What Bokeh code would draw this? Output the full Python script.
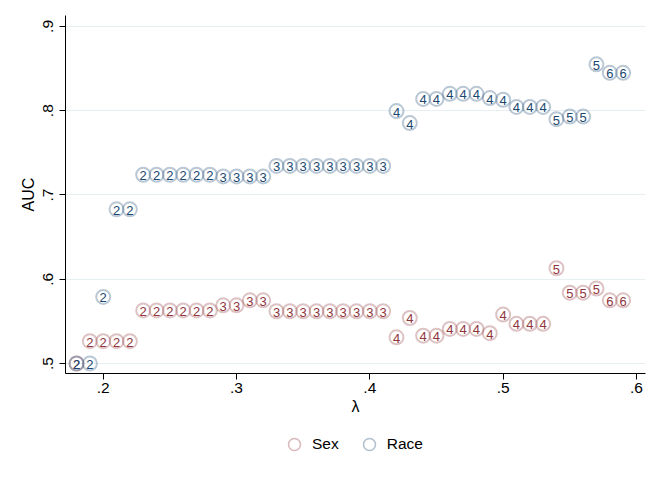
from bokeh.plotting import figure
from bokeh.layouts import column
from bokeh.models import (ColumnDataSource, Legend, LegendItem, FixedTicker,
                          CustomJSTickFormatter, Range1d)
from bokeh.core.properties import value
from bokeh.embed import file_html
from bokeh.resources import INLINE

lam = [0.18, 0.19, 0.20, 0.21, 0.22, 0.23, 0.24, 0.25, 0.26, 0.27, 0.28,
       0.29, 0.30, 0.31, 0.32, 0.33, 0.34, 0.35, 0.36, 0.37, 0.38, 0.39,
       0.40, 0.41, 0.42, 0.43, 0.44, 0.45, 0.46, 0.47, 0.48, 0.49, 0.50,
       0.51, 0.52, 0.53, 0.54, 0.55, 0.56, 0.57, 0.58, 0.59]

sex_auc = [0.500, 0.5265, 0.5265, 0.5265, 0.5265, 0.563, 0.563, 0.563, 0.563,
           0.563, 0.563, 0.569, 0.569, 0.575, 0.575, 0.562, 0.562, 0.562,
           0.562, 0.562, 0.562, 0.562, 0.562, 0.562, 0.531, 0.554, 0.533,
           0.533, 0.541, 0.541, 0.541, 0.536, 0.558, 0.547, 0.547, 0.547,
           0.613, 0.584, 0.584, 0.589, 0.575, 0.575]

race_auc = [0.500, 0.500, 0.579, 0.683, 0.683, 0.724, 0.724, 0.724, 0.724,
            0.724, 0.724, 0.722, 0.722, 0.722, 0.722, 0.7345, 0.7345, 0.7345,
            0.7345, 0.7345, 0.7345, 0.7345, 0.7345, 0.7345, 0.7996, 0.7853,
            0.814, 0.814, 0.820, 0.820, 0.820, 0.815, 0.813, 0.8045, 0.8045,
            0.8045, 0.790, 0.793, 0.793, 0.855, 0.845, 0.845]

groups = ["2", "2", "2", "2", "2", "2", "2", "2", "2", "2", "2",
          "3", "3", "3", "3", "3", "3", "3", "3", "3", "3", "3", "3", "3",
          "4", "4", "4", "4", "4", "4", "4", "4", "4", "4", "4", "4",
          "5", "5", "5", "5", "6", "6"]

series_names = ["Sex", "Race"]
x_ticks = [0.2, 0.3, 0.4, 0.5, 0.6]
y_ticks = [0.5, 0.6, 0.7, 0.8, 0.9]

SEX_C = "#90353b"
RACE_C = "#1a476f"
FONT = "Liberation Sans"

src = ColumnDataSource(dict(x=lam, sex=sex_auc, race=race_auc, g=groups))

p = figure(width=656, height=422, output_backend="svg", toolbar_location=None,
           x_range=Range1d(0.1717, 0.6068), y_range=Range1d(0.4881, 0.913),
           min_border_left=65, min_border_right=11, min_border_top=15,
           min_border_bottom=49)
p.outline_line_color = None
p.background_fill_color = "white"
p.border_fill_color = "white"

p.scatter("x", "sex", source=src, marker="circle", size=14,
          fill_color="white", fill_alpha=0.0, line_color=SEX_C,
          line_alpha=0.3, line_width=2)
p.text("x", "sex", text="g", source=src, text_align="center",
       text_baseline="middle", text_font=value(FONT), text_font_size="13px",
       text_color=SEX_C, y_offset=1)
p.scatter("x", "race", source=src, marker="circle", size=14,
          fill_color="white", fill_alpha=0.0, line_color=RACE_C,
          line_alpha=0.3, line_width=2)
p.text("x", "race", text="g", source=src, text_align="center",
       text_baseline="middle", text_font=value(FONT), text_font_size="13px",
       text_color=RACE_C, y_offset=1)

fmt = CustomJSTickFormatter(code="return tick.toFixed(1).replace(/^0/, '');")

p.xaxis.ticker = FixedTicker(ticks=x_ticks)
p.yaxis.ticker = FixedTicker(ticks=y_ticks)
p.xaxis.formatter = fmt
p.yaxis.formatter = fmt
for ax in (p.xaxis, p.yaxis):
    ax.minor_tick_line_color = None
    ax.major_tick_out = 6
    ax.major_tick_in = 0
    ax.axis_line_color = "black"
    ax.major_tick_line_color = "black"
    ax.major_label_text_font = FONT
    ax.major_label_text_font_size = "15.5px"
    ax.major_label_text_color = "black"
    ax.axis_label_text_font = FONT
    ax.axis_label_text_font_size = "16px"
    ax.axis_label_text_font_style = "normal"
    ax.axis_label_text_color = "black"

p.xaxis.axis_label = "λ"
p.yaxis.axis_label = "AUC"
p.yaxis.major_label_orientation = "vertical"
p.xaxis.major_label_standoff = 3
p.yaxis.major_label_standoff = 6
p.xaxis.axis_label_standoff = 2
p.yaxis.axis_label_standoff = 4

p.xgrid.grid_line_color = None
p.ygrid.grid_line_color = "#e6eff2"
p.ygrid.grid_line_width = 1

# legend strip below the plot (its ranges keep the key renderers' points
# out of view, so only the legend keys show)
lg = figure(width=656, height=53, output_backend="svg", toolbar_location=None,
            x_range=Range1d(2, 3), y_range=Range1d(2, 3),
            x_axis_type=None, y_axis_type=None, min_border=0)
lg.outline_line_color = None
lg.xgrid.visible = False
lg.ygrid.visible = False
lr_sex = lg.scatter("x", "sex", source=src, marker="circle", size=12,
                    fill_alpha=0.0, line_color=SEX_C, line_alpha=0.35,
                    line_width=1.5)
lr_race = lg.scatter("x", "race", source=src, marker="circle", size=12,
                     fill_alpha=0.0, line_color=RACE_C, line_alpha=0.35,
                     line_width=1.5)
legend = Legend(items=[LegendItem(label=series_names[0], renderers=[lr_sex]),
                       LegendItem(label=series_names[1], renderers=[lr_race])],
                orientation="horizontal", location=(214, 16),
                glyph_width=30, glyph_height=30, label_height=30,
                label_standoff=3, spacing=15, padding=0, margin=0,
                label_text_font=FONT, label_text_font_size="15.5px",
                label_text_color="black",
                background_fill_alpha=0, border_line_alpha=0)
lg.add_layout(legend, "center")

layout = column(p, lg, spacing=0)
open("out.html", "w").write(file_html(layout, INLINE))
